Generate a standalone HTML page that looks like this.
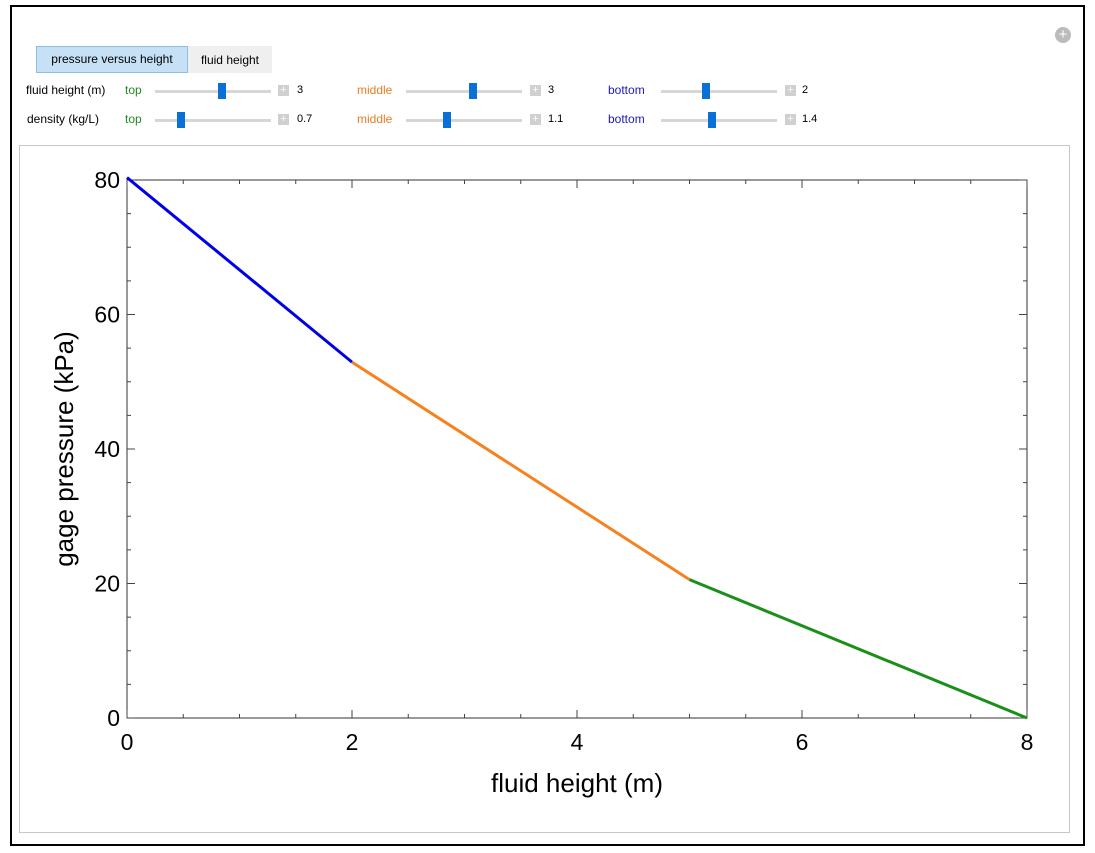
<!DOCTYPE html>
<html><head><meta charset="utf-8"><style>
body{margin:0;background:#fff;font-family:"Liberation Sans",sans-serif;}
#wrap{position:relative;width:1095px;height:853px;overflow:hidden}
.abs{position:absolute}
.lbl{font-size:12px;color:#000}
.track{position:absolute;height:3px;background:#d6d6d6;width:116px}
.thumb{position:absolute;width:8px;height:16px;background:#0a6fd6}
.plus{position:absolute;width:11px;height:11px;background:#d0d0d0;color:#fff;font-size:11px;line-height:11px;text-align:center}
</style></head><body>
<div id="wrap">
<div class="abs" style="left:10px;top:5px;width:1071px;height:837px;border:2px solid #000"></div>
<div class="abs" style="left:1055px;top:27px;width:16px;height:16px;border-radius:50%;background:#bbb;color:#fff;font-size:15px;line-height:16px;text-align:center">+</div>
<div class="abs" style="left:36px;top:46px;width:150px;height:25px;background:#c6e0f5;border:1px solid #8fbde3;font-size:12px;line-height:25px;text-align:center">pressure versus height</div>
<div class="abs" style="left:188px;top:46px;width:84px;height:27px;background:#efefef;font-size:12px;line-height:29px;text-align:center">fluid height</div>
<div id="ctrls"></div>
<div class="abs" style="left:19px;top:145px;width:1049px;height:686px;border:1px solid #c8c8c8"></div>
<svg class="abs" style="left:0;top:0" width="1095" height="853" id="chart"></svg>
</div>
<script>
// controls
const rows=[{y:91,label:"fluid height (m)",vals:["3","3","2"],thumbs:[222,473,706]},{y:120,label:"density (kg/L)",vals:["0.7","1.1","1.4"],thumbs:[181,447,712]}];
const groups=[{name:"top",color:"#1f8a1f",lx:125,tx:155,px:278,vx:297},{name:"middle",color:"#e67e22",lx:357,tx:406,px:530,vx:548},{name:"bottom",color:"#1a1ab8",lx:608,tx:661,px:785,vx:802}];
const c=document.getElementById('ctrls');let h='';
rows.forEach((r,ri)=>{
 h+=`<div class="abs lbl" style="left:${ri?27:26}px;top:${r.y-8}px">${r.label}</div>`;
 groups.forEach((g,gi)=>{
  h+=`<div class="abs lbl" style="left:${g.lx}px;top:${r.y-8}px;color:${g.color}">${g.name}</div>`;
  h+=`<div class="track" style="left:${g.tx}px;top:${r.y-1}px"></div>`;
  h+=`<div class="thumb" style="left:${r.thumbs[gi]-4}px;top:${r.y-8}px"></div>`;
  h+=`<div class="plus" style="left:${g.px}px;top:${r.y-6}px">+</div>`;
  h+=`<div class="abs lbl" style="left:${g.vx}px;top:${r.y-7}px;font-size:11px">${r.vals[gi]}</div>`;
 });
});
c.outerHTML=h;
// chart data
const xs=[0,2,5,8];
const ps=[80.36,52.92,20.58,0];
const segColors=["#0000e6","#f5821f","#1a8f1a"];
const xTicks=[0,2,4,6,8];
const yTicks=[0,20,40,60,80];
const X=v=>127+v*(900/8), Y=v=>718-v*(538/80);
const svg=document.getElementById('chart');const NS="http://www.w3.org/2000/svg";
function mk(t,a,p){const e=document.createElementNS(NS,t);for(const k in a)e.setAttribute(k,a[k]);(p||svg).appendChild(e);return e;}
let e=mk('rect',{x:127,y:180,width:900,height:538,fill:'none',stroke:'#333','stroke-width':1});


for(let v=0;v<=8.001;v+=0.5){const maj=Math.abs(v%2)<1e-6,L=maj?8:4;
 mk('line',{x1:X(v),x2:X(v),y1:718,y2:718-L,stroke:'#444'});mk('line',{x1:X(v),x2:X(v),y1:180,y2:180+L,stroke:'#444'});}
for(let v=0;v<=80.001;v+=5){const maj=v%20===0,L=maj?8:4;
 mk('line',{x1:127,x2:127+L,y1:Y(v),y2:Y(v),stroke:'#444'});mk('line',{x1:1027,x2:1027-L,y1:Y(v),y2:Y(v),stroke:'#444'});}
xTicks.forEach(v=>{const t=mk('text',{x:X(v),y:750,'font-size':23,'text-anchor':'middle'});t.textContent=v;
 
 });
yTicks.forEach(v=>{const t=mk('text',{x:120,y:Y(v)+8,'font-size':23,'text-anchor':'end'});t.textContent=v;
 
 });
for(let i=0;i<xs.length-1;i++){const l=mk('line',{x1:X(xs[i]),y1:Y(ps[i]),x2:X(xs[i+1]),y2:Y(ps[i+1]),stroke:segColors[i],'stroke-width':3});
 
 }
let xt=mk('text',{x:577,y:792,'font-size':26,'text-anchor':'middle'});xt.textContent='fluid height (m)';


let yt=mk('text',{x:0,y:0,'font-size':26,'text-anchor':'middle',transform:'translate(73,449) rotate(-90)'});yt.textContent='gage pressure (kPa)';


</script>
</body></html>
